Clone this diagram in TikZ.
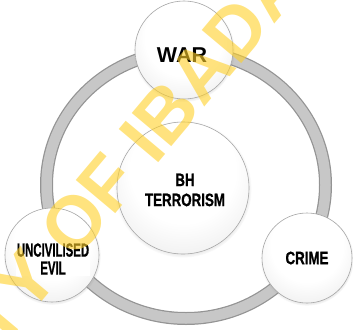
\documentclass[tikz,border=0pt]{standalone}
\usepackage{fontspec}
\setmainfont{Liberation Sans}
\newfontfamily\narA{Liberation Sans}[FakeStretch=0.74, FakeBold=0.8]
\newfontfamily\narB{Liberation Sans}[FakeStretch=0.6, FakeBold=0.8]
\usetikzlibrary{shadows}
\pgfdeclareradialshading{glossy}{\pgfpoint{0bp}{10bp}}{%
  color(0bp)=(white); color(20bp)=(white); color(30bp)=(black!5);
  color(44bp)=(black!15); color(52bp)=(black!28); color(60bp)=(black!34)}
\definecolor{wmcol}{RGB}{255,208,40}
\begin{document}
\begin{tikzpicture}[x=1pt,y=-1pt,
  ball/.style={circle, draw=black!35, line width=0.6pt, shading=glossy,
    circular drop shadow={shadow xshift=0pt, shadow yshift=-1pt,
      shadow scale=1.04, opacity=0.4}},
  lbl/.style={fill=white, inner sep=2pt, text=black, align=center},
  ringouter/.style={draw=black!42, line width=13pt},
  ringinner/.style={draw=black!22, line width=10.5pt}]
\useasboundingbox (0,0) rectangle (353,329);
% ring
\coordinate (rc) at (186,185);
\draw[ringouter] (rc) ellipse [x radius=139.5, y radius=133.5];
\draw[ringinner] (rc) ellipse [x radius=139.5, y radius=133.5];
% balls
\node[ball, minimum size=98pt] (war) at (184,50) {};
\node[ball, minimum size=132pt] (bh) at (183,188) {};
\node[ball, minimum size=94pt] (evil) at (52,255) {};
\node[ball, minimum size=90pt] (crime) at (307,258) {};
% labels
\node[text=black, font=\bfseries\fontsize{21.5}{24}\selectfont] (wart) at (182,55) {WAR};
\node[lbl, font=\narA\bfseries\fontsize{18}{20}\selectfont] (bht) at (185,190) {BH\\TERRORISM};
\node[lbl, inner sep=1pt, font=\narB\bfseries\fontsize{19}{18}\selectfont] (evilt) at (53,259) {UNCIVILISED\\EVIL};
\node[lbl, inner xsep=5pt, inner ysep=4pt, font=\narA\bfseries\fontsize{18}{20}\selectfont] (crimet) at (307,258) {CRIME};
% watermark
\node[rotate=50, text=wmcol, text opacity=0.6, inner sep=0pt,
  font=\bfseries\fontsize{75}{80}\selectfont] (wm) at (38,266) {UNIVERSITY OF IBADAN};
\end{tikzpicture}
\end{document}
